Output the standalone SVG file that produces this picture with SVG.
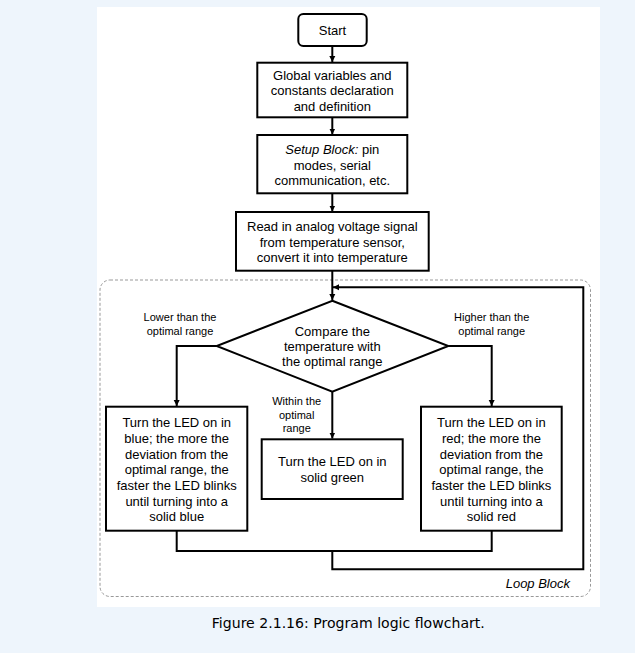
<svg xmlns="http://www.w3.org/2000/svg" width="635" height="653" viewBox="0 0 635 653">
<style>
.box{fill:#fff;stroke:#000;stroke-width:2}
.t{font-family:"Liberation Sans",Arial,sans-serif;font-size:13px;fill:#000;text-anchor:middle;dominant-baseline:central}
.s{font-family:"Liberation Sans",Arial,sans-serif;font-size:11px;fill:#000;text-anchor:middle;dominant-baseline:central}
.c{fill:none;stroke:#000;stroke-width:2}
</style>
<defs>
<marker id="ah" markerWidth="8" markerHeight="8" refX="6" refY="4" orient="auto" markerUnits="userSpaceOnUse">
<path d="M0,1 L6,4 L0,7 Z" fill="#000"/>
</marker>
</defs>
<rect x="0" y="0" width="635" height="653" fill="#eef5fc"/>
<rect x="97" y="7" width="503" height="600" fill="#fff"/>
<g id="loop-block">
<rect x="100" y="280" width="490.5" height="316.5" rx="10" fill="none" stroke="#999" stroke-width="1" stroke-dasharray="3,2"/>
<text x="570" y="583.5" class="t" style="text-anchor:end;font-style:italic">Loop Block</text>
</g>
<g id="connectors">
<line class="c" x1="332.3" y1="46" x2="332.3" y2="62" marker-end="url(#ah)"/>
<line class="c" x1="332.3" y1="117.5" x2="332.3" y2="134.5" marker-end="url(#ah)"/>
<line class="c" x1="332.3" y1="193.5" x2="332.3" y2="211.5" marker-end="url(#ah)"/>
<line class="c" x1="332.3" y1="271" x2="332.3" y2="300" marker-end="url(#ah)"/>
<polyline class="c" points="216.7,346 176.7,346 176.7,406" marker-end="url(#ah)"/>
<polyline class="c" points="448.3,346 491.7,346 491.7,406" marker-end="url(#ah)"/>
<line class="c" x1="332.3" y1="392" x2="332.3" y2="438.5" marker-end="url(#ah)"/>
<polyline class="c" points="176.7,531 176.7,551 491.7,551 491.7,531"/>
<polyline class="c" points="332.3,551 332.3,569.3 583.3,569.3 583.3,287.3 333,287.3" marker-end="url(#ah)"/>
<text class="s" x="180" y="316.7">Lower than the</text>
<text class="s" x="180" y="330.7">optimal range</text>
<text class="s" x="491.7" y="316.7">Higher than the</text>
<text class="s" x="491.7" y="330.7">optimal range</text>
<text class="s" x="296.7" y="401">Within the</text>
<text class="s" x="296.7" y="415">optimal</text>
<text class="s" x="296.7" y="428.3">range</text>
</g>
<g id="start">
<rect class="box" x="298.3" y="14" width="68.4" height="32" rx="5"/>
<text class="t" x="332.5" y="30.5">Start</text>
</g>
<g id="globals">
<rect class="box" x="257.3" y="62.7" width="150" height="54.6"/>
<text class="t" x="332.3" y="75">Global variables and</text>
<text class="t" x="332.3" y="90.7">constants declaration</text>
<text class="t" x="332.3" y="106.4">and definition</text>
</g>
<g id="setup">
<rect class="box" x="257.3" y="135" width="150" height="58.3"/>
<text class="t" x="332.3" y="149.3"><tspan font-style="italic">Setup Block:</tspan> pin</text>
<text class="t" x="332.3" y="165">modes, serial</text>
<text class="t" x="332.3" y="180.7">communication, etc.</text>
</g>
<g id="read">
<rect class="box" x="236" y="212" width="192.7" height="58.7"/>
<text class="t" x="332.3" y="226.7">Read in analog voltage signal</text>
<text class="t" x="332.3" y="242.3">from temperature sensor,</text>
<text class="t" x="332.3" y="257.8">convert it into temperature</text>
</g>
<g id="compare">
<polygon class="box" points="332.3,300.7 448.3,346 332.3,391.7 216.7,346"/>
<text class="t" x="332.3" y="331">Compare the</text>
<text class="t" x="332.3" y="346.7">temperature with</text>
<text class="t" x="332.3" y="361.7">the optimal range</text>
</g>
<g id="blue">
<rect class="box" x="106" y="406.7" width="141.3" height="124"/>
<text class="t" x="176.7" y="422.7">Turn the LED on in</text>
<text class="t" x="176.7" y="438.3">blue; the more the</text>
<text class="t" x="176.7" y="454">deviation from the</text>
<text class="t" x="176.7" y="469.8">optimal range, the</text>
<text class="t" x="176.7" y="485.5">faster the LED blinks</text>
<text class="t" x="176.7" y="501.1">until turning into a</text>
<text class="t" x="176.7" y="516.7">solid blue</text>
</g>
<g id="green">
<rect class="box" x="261.7" y="439.3" width="141" height="59.7"/>
<text class="t" x="332.3" y="461.7">Turn the LED on in</text>
<text class="t" x="332.3" y="477.5">solid green</text>
</g>
<g id="red">
<rect class="box" x="421" y="406.7" width="140.7" height="124"/>
<text class="t" x="491.4" y="422.7">Turn the LED on in</text>
<text class="t" x="491.4" y="438.3">red; the more the</text>
<text class="t" x="491.4" y="454">deviation from the</text>
<text class="t" x="491.4" y="469.8">optimal range, the</text>
<text class="t" x="491.4" y="485.5">faster the LED blinks</text>
<text class="t" x="491.4" y="501.1">until turning into a</text>
<text class="t" x="491.4" y="516.7">solid red</text>
</g>
<text x="348.3" y="622.7" style="font-family:'DejaVu Sans',Verdana,sans-serif;font-size:13.5px;fill:#000;text-anchor:middle;dominant-baseline:central" textLength="273" lengthAdjust="spacingAndGlyphs">Figure 2.1.16: Program logic flowchart.</text>
</svg>
